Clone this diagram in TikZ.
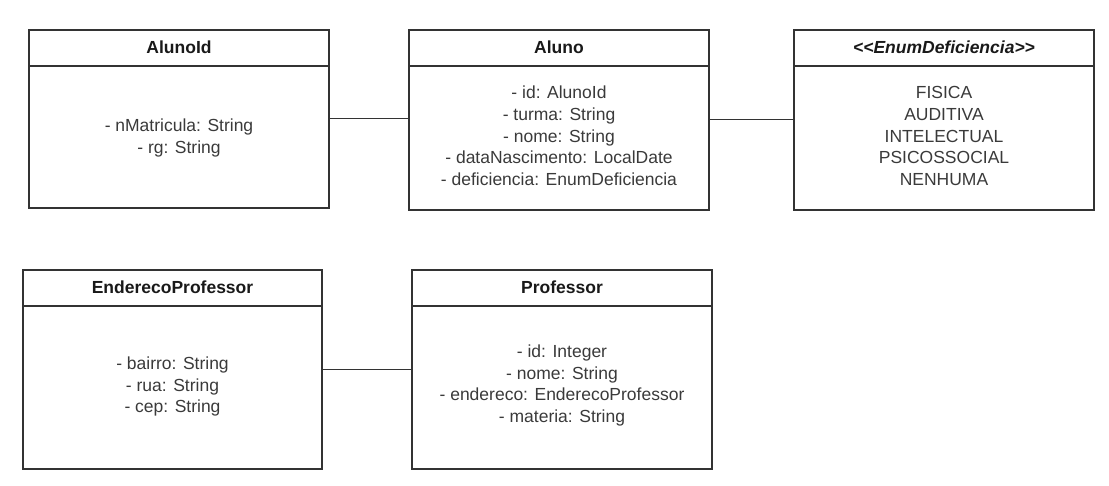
\documentclass[tikz,border=0pt]{standalone}
\usepackage{fontspec}
\setmainfont{Liberation Sans}
\definecolor{linegray}{HTML}{333333}
\definecolor{textgray}{HTML}{3A3A3A}
\begin{document}
\begin{tikzpicture}[x=1pt, y=-1pt,
    classbox/.style={draw=linegray, line width=2pt, minimum width=300pt, inner sep=0pt},
    title/.style={font=\bfseries\fontsize{17.5}{20}\selectfont, text=black!90},
    attrs/.style={align=center, font=\fontsize{17.5}{21.7}\selectfont, text=textgray},
    link/.style={draw=linegray, line width=1pt}]
  \useasboundingbox (0,0) rectangle (1109,486);
  % classes
  \node[classbox, minimum height=178pt] (alunoid) at (179,119) {};
  \node[classbox, minimum height=180pt] (aluno) at (559,120) {};
  \node[classbox, minimum height=180pt] (enum) at (944,120) {};
  \node[classbox, minimum width=299pt, minimum height=199pt] (endereco) at (172.5,369.5) {};
  \node[classbox, minimum height=199pt] (professor) at (562,369.5) {};
  \foreach \n in {alunoid,aluno,enum,endereco,professor}
    \draw[draw=linegray, line width=2pt] ([yshift=-37pt]\n.north west) -- ([yshift=-37pt]\n.north east);
  % titles
  \node[title] (alunoidT) at ([yshift=-18pt]alunoid.north) {AlunoId};
  \node[title] (alunoT) at ([yshift=-18pt]aluno.north) {Aluno};
  \node[title] (enumT) at ([yshift=-18pt]enum.north) {\itshape <\kern0pt<EnumDeficiencia>\kern0pt>};
  \node[title] (enderecoT) at ([yshift=-18pt]endereco.north) {EnderecoProfessor};
  \node[title] (professorT) at ([yshift=-18pt]professor.north) {Professor};
  % attributes
  \node[attrs] (alunoidA) at ([yshift=-19pt]alunoid.center) {- nMatricula: String\\- rg: String};
  \node[attrs] (alunoA) at ([yshift=-16pt]aluno.center) {- id: AlunoId\\- turma: String\\- nome: String\\- dataNascimento: LocalDate\\- deficiencia: EnumDeficiencia};
  \node[attrs] (enumA) at ([yshift=-16pt]enum.center) {FISICA\\AUDITIVA\\INTELECTUAL\\PSICOSSOCIAL\\NENHUMA};
  \node[attrs] (enderecoA) at ([yshift=-17pt]endereco.center) {- bairro: String\\- rua: String\\- cep: String};
  \node[attrs] (professorA) at ([yshift=-16pt]professor.center) {- id: Integer\\- nome: String\\- endereco: EnderecoProfessor\\- materia: String};
  % associations
  \draw[link] (alunoid.east) -- (aluno.west |- alunoid.east);
  \draw[link] (aluno.east) -- (enum.west);
  \draw[link] (endereco.east) -- (professor.west);
\end{tikzpicture}
\end{document}
